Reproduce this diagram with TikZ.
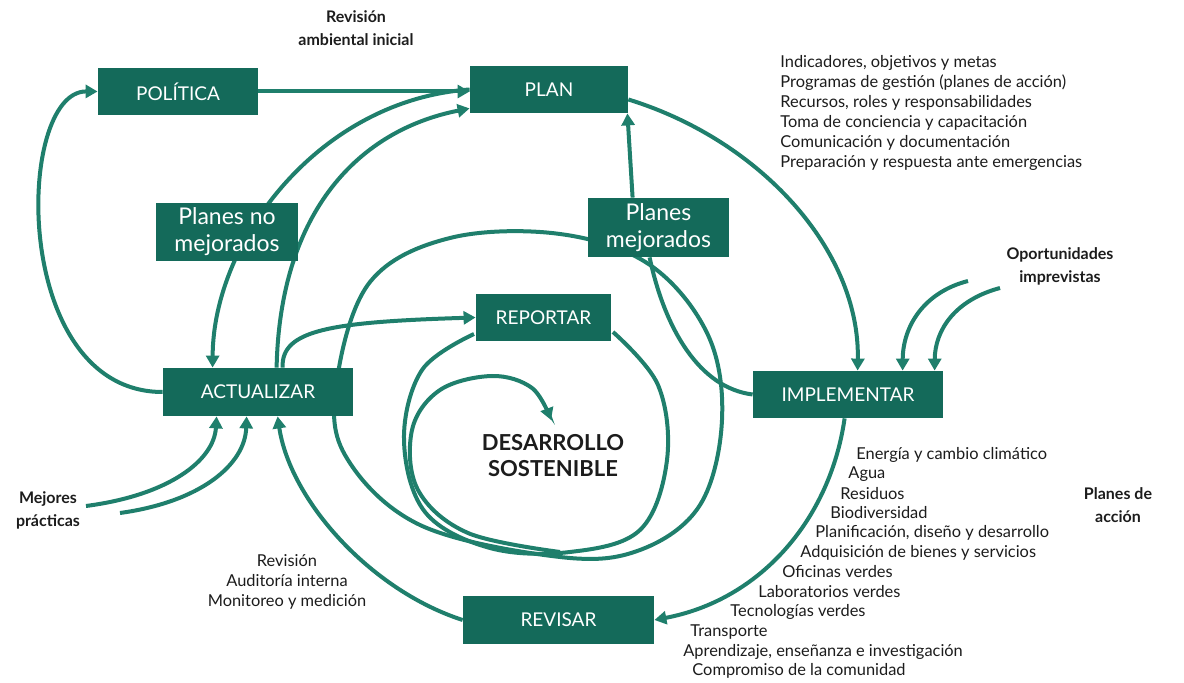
\documentclass[tikz,border=0pt]{standalone}
\usepackage{fontspec}
\setmainfont{Lato}
\usetikzlibrary{arrows.meta,calc}

\definecolor{boxgreen}{HTML}{146A5A}
\definecolor{linegreen}{HTML}{1F7F6C}
\definecolor{inkgray}{HTML}{1C1C1C}

\pgfdeclarelayer{bg}
\pgfsetlayers{bg,main}

\tikzset{
  box/.style={fill=boxgreen, text=white, inner sep=0pt, minimum height=23.5pt,
    font=\fontsize{9.5}{11}\selectfont},
  bigbox/.style={box, align=center, font=\fontsize{11.5}{13.5}\selectfont},
  flow/.style={draw=linegreen, line width=2pt},
  arr/.style={flow, -{Triangle[length=6pt,width=6.5pt]}},
  lbl/.style={font=\bfseries\fontsize{8}{11.5}\selectfont, align=center, text=inkgray},
  lst/.style={font=\fontsize{8.2}{10}\selectfont, text=inkgray, inner sep=0pt},
}

\begin{document}
\begin{tikzpicture}[x=0.5pt,y=-0.5pt]
\useasboundingbox (0,0) rectangle (1184,683);

%% cajas
\node[box, minimum width=80pt] (politica) at (178,91.5) {POLÍTICA};
\node[box, minimum width=79pt] (plan) at (549,89.5) {PLAN};
\node[bigbox, minimum width=71pt, minimum height=29pt] (nomej) at (227,232) {Planes no\\mejorados};
\node[bigbox, minimum width=70.5pt, minimum height=29.5pt] (mej) at (658.5,227.5) {Planes\\mejorados};
\node[box, minimum width=67.5pt] (reportar) at (543.5,317.5) {REPORTAR};
\node[box, minimum width=95pt, minimum height=24pt] (actualizar) at (258,392) {ACTUALIZAR};
\node[box, minimum width=95pt] (implementar) at (848,394.5) {IMPLEMENTAR};
\node[box, minimum width=95.5pt, minimum height=24pt] (revisar) at (558.5,620) {REVISAR};

%% etiquetas
\node[lbl] (revamb) at (356,28.5) {Revisión\\ambiental inicial};
\node[lbl] (oport) at (1060,266) {Oportunidades\\imprevistas};
\node[lbl] (placc) at (1118,505) {Planes de\\acción};
\node[lbl] (mejores) at (48,510.5) {Mejores\\prácticas};
\node[lbl, font=\bfseries\fontsize{11}{13}\selectfont] (desarrollo) at (553,456) {DESARROLLO\\SOSTENIBLE};

\node[lst, anchor=north west, align=left] (planlist) at (780,55) {Indicadores, objetivos y metas\\
Programas de gestión (planes de acción)\\
Recursos, roles y responsabilidades\\
Toma de conciencia y capacitación\\
Comunicación y documentación\\
Preparación y respuesta ante emergencias};

\node[lst, align=center] (revlist) at (287,582) {Revisión\\Auditoría interna\\Monitoreo y medición};

\foreach \xx/\yy/\txt [count=\i] in {856/455/Energía y cambio climático, 848/474/Agua,
  840/494/Residuos, 830/513/Biodiversidad, 815/533/{Planificación, diseño y desarrollo},
  800/553/Adquisición de bienes y servicios, 782/572/Oficinas verdes,
  758/592/Laboratorios verdes, 730/612/Tecnologías verdes, 690/632/Transporte,
  683/652/{Aprendizaje, enseñanza e investigación}, 692/671/Compromiso de la comunidad}{
  \node[lst, anchor=west] (accion\i) at (\xx,\yy) {\txt};
}

\coordinate (mp1) at (86,506);
\coordinate (mp2) at (120,513);
\coordinate (op1) at (968,281);
\coordinate (op2) at (1000,288);

\begin{pgfonlayer}{bg}
%% ciclo exterior
\draw[arr] (politica.east) -- (politica.east -| plan.west);
\draw[arr] (actualizar.west) .. controls (10,392) and (15,91) .. (politica.west);
\draw[arr] (plan.west) .. controls (320,100) and (213,240) .. ($(actualizar.north west)+(50,0)$);
\draw[arr] ($(actualizar.north west)+(114,0)$) .. controls (280,210) and (360,130) .. ($(plan.south west)+(0,-5)$);
\draw[arr] ($(actualizar.north west)+(120,0)$) .. controls (281,330) and (330,322) .. (reportar.west);
\draw[arr] ($(mej.north west)+(45,0)$) -- ($(plan.south east)+(-1,0)$);
\draw[arr] ($(plan.east)+(0,10)$) .. controls (760,140) and (860,250) .. ($(implementar.north west)+(105,0)$);
\draw[arr] ($(implementar.south west)+(92,0)$) .. controls (830,520) and (760,600) .. (revisar.east);
\draw[arr] (revisar.west) .. controls (370,590) and (290,500) .. ($(actualizar.south west)+(115,0)$);

%% entradas
\draw[arr] (mp1) .. controls (170,495) and (214,460) .. ($(actualizar.south west)+(54,0)$);
\draw[arr] (mp2) .. controls (200,502) and (245,465) .. ($(actualizar.south west)+(84,0)$);
\draw[arr] (op1) .. controls (925,292) and (903,325) .. ($(implementar.north west)+(150,0)$);
\draw[arr] (op2) .. controls (955,300) and (935,330) .. ($(implementar.north west)+(182,0)$);
\draw[flow] ($(mej.south west)+(62,0)$) .. controls (665,330) and (700,388) .. (implementar.west);

%% espiral
\draw[flow] plot[smooth cycle, tension=0.6] coordinates {(560,557) (420,525) (345,455) (337,380)
  (370,282) (450,238) (560,234) (650,265) (708,335) (722,420) (700,505) (640,550)};
\draw[flow] plot[smooth, tension=0.6] coordinates {(474,334) (422,370) (404,440) (425,512)
  (490,548) (570,552) (640,530) (667,460) (658,385) (613,332)};
\draw[arr] plot[smooth, tension=0.6] coordinates {(560,552) (468,533) (418,490) (412,430)
  (440,390) (492,376) (532,388) (551,420)};
\end{pgfonlayer}

\end{tikzpicture}
\end{document}
